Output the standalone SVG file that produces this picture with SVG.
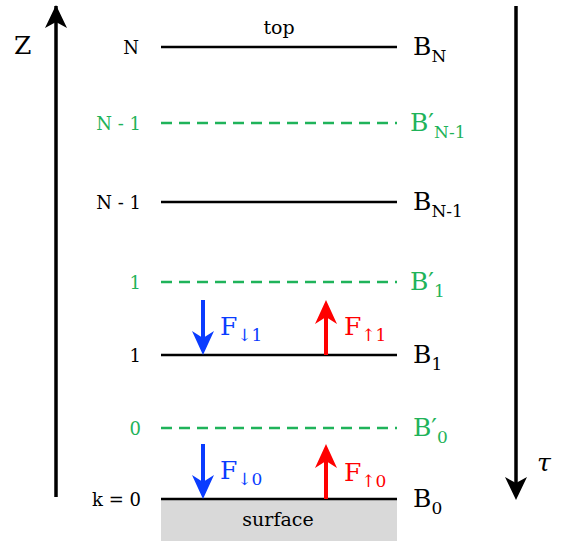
<svg xmlns="http://www.w3.org/2000/svg" width="561" height="541" viewBox="0 0 561 541" font-family="'DejaVu Serif', serif">
<style>
.k{fill:#000}.g{fill:#1fb35a}.b{fill:#0a3cff}.r{fill:#ff0000}
.lbl{font-size:18px;text-anchor:end}
.big{font-size:25px}
.sub{font-size:17px}
.solid{stroke:#000;stroke-width:2.5}
.dash{stroke:#1fb35a;stroke-width:2.5;stroke-dasharray:11 7}
</style>
<g id="surface"><rect x="161" y="499" width="236" height="42" fill="#d9d9d9"/><text x="278" y="526" font-size="19" text-anchor="middle">surface</text></g>
<g id="axes">
<line x1="56" y1="497" x2="56" y2="6" stroke="#000" stroke-width="3.5"/>
<path d="M56,5 L67,28 L56,22 L45,28 z" fill="#000"/>
<text x="14" y="54" class="big">Z</text>
<line x1="516" y1="6" x2="516" y2="496" stroke="#000" stroke-width="3.5"/>
<path d="M516,500 L527,477 L516,483 L505,477 z" fill="#000"/>
<text x="537" y="471" class="big" font-style="italic">τ</text>
</g>
<g id="levels">
<line x1="161" y1="47" x2="397" y2="47" class="solid"/>
<line x1="161" y1="123" x2="397" y2="123" class="dash"/>
<line x1="161" y1="202" x2="397" y2="202" class="solid"/>
<line x1="161" y1="282" x2="397" y2="282" class="dash"/>
<line x1="161" y1="355" x2="397" y2="355" class="solid"/>
<line x1="161" y1="428" x2="397" y2="428" class="dash"/>
<line x1="161" y1="499" x2="397" y2="499" class="solid"/>
</g>
<g id="top-label"><text x="279" y="34" font-size="19" text-anchor="middle">top</text></g>
<g id="left-labels">
<text x="139" y="54" class="lbl k">N</text>
<text x="141" y="130" class="lbl g">N - 1</text>
<text x="141" y="209" class="lbl k">N - 1</text>
<text x="141" y="289" class="lbl g">1</text>
<text x="141" y="362" class="lbl k">1</text>
<text x="141" y="435" class="lbl g">0</text>
<text x="141" y="506" class="lbl k">k = 0</text>
</g>
<g id="right-labels">
<text x="413" y="55" class="big k">B<tspan class="sub" dy="7">N</tspan></text>
<text x="410" y="131" class="big g">B′<tspan class="sub" dy="7">N-1</tspan></text>
<text x="413" y="210" class="big k">B<tspan class="sub" dy="7">N-1</tspan></text>
<text x="410" y="290" class="big g">B′<tspan class="sub" dy="7">1</tspan></text>
<text x="413" y="363" class="big k">B<tspan class="sub" dy="7">1</tspan></text>
<text x="413" y="436" class="big g">B′<tspan class="sub" dy="7">0</tspan></text>
<text x="413" y="507" class="big k">B<tspan class="sub" dy="7">0</tspan></text>
</g>
<g id="fluxes">
<line x1="203" y1="300" x2="203" y2="340" stroke="#0a3cff" stroke-width="4"/>
<path d="M203,355 L214,331 L203,338 L192,331 z" fill="#0a3cff"/>
<text x="220" y="335" class="big b">F<tspan class="sub" dy="6">↓1</tspan></text>
<line x1="326" y1="355" x2="326" y2="316" stroke="#ff0000" stroke-width="4"/>
<path d="M326,300 L337,324 L326,317 L315,324 z" fill="#ff0000"/>
<text x="344" y="335" class="big r">F<tspan class="sub" dy="6">↑1</tspan></text>
<line x1="203" y1="444" x2="203" y2="484" stroke="#0a3cff" stroke-width="4"/>
<path d="M203,499 L214,475 L203,482 L192,475 z" fill="#0a3cff"/>
<text x="220" y="479" class="big b">F<tspan class="sub" dy="6">↓0</tspan></text>
<line x1="326" y1="499" x2="326" y2="460" stroke="#ff0000" stroke-width="4"/>
<path d="M326,444 L337,468 L326,461 L315,468 z" fill="#ff0000"/>
<text x="344" y="481" class="big r">F<tspan class="sub" dy="6">↑0</tspan></text>
</g>
</svg>
